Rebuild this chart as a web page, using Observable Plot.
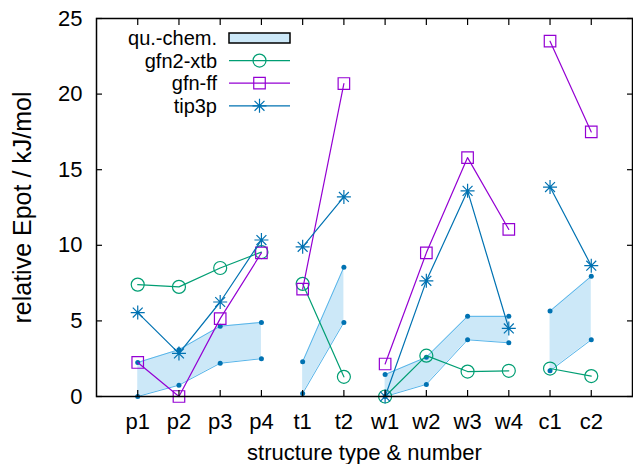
<!DOCTYPE html>
<html>
<head>
<meta charset="utf-8">
<script src="https://cdn.jsdelivr.net/npm/d3@7"></script>
<script src="https://cdn.jsdelivr.net/npm/@observablehq/plot@0.6"></script>
<style>
  html, body { margin: 0; padding: 0; background: white; }
</style>
</head>
<body>
<div id="chart"></div>
<script>
const categories = ["p1","p2","p3","p4","t1","t2","w1","w2","w3","w4","c1","c2"];
const groups     = ["p","p","p","p","t","t","w","w","w","w","c","c"];
const qcLow  = [0, 0.75, 2.2, 2.5, 0.2, 4.9, 0, 0.8, 3.75, 3.55, 1.7, 3.75];
const qcHigh = [2.25, 3.1, 4.65, 4.9, 2.3, 8.55, 1.45, 2.6, 5.3, 5.3, 5.65, 7.95];
const gfn2xtb = [7.4, 7.25, 8.5, 9.55, 7.45, 1.3, 0, 2.7, 1.65, 1.7, 1.85, 1.35];
const gfnff   = [2.25, 0, 5.15, 9.5, 7.1, 20.7, 2.15, 9.5, 15.8, 11.05, 23.5, 17.5];
const tip3p   = [5.55, 2.85, 6.25, 10.35, 9.9, 13.2, 0, 7.65, 13.6, 4.5, 13.85, 8.65];
const yTicks = [0, 5, 10, 15, 20, 25];

const rows = categories.map((c, i) => ({
  x: i + 1, cat: c, group: groups[i],
  low: qcLow[i], high: qcHigh[i],
  gfn2: gfn2xtb[i], gfnff: gfnff[i], tip3p: tip3p[i]
}));

const cGreen = "#009e73", cPurple = "#9400d3", cBlue = "#0072b2", cSky = "#56b4e9";

// 8-arm asterisk (plus + cross)
const star8 = {
  draw(context, size) {
    const r = Math.sqrt(size / Math.PI);
    const d = r * Math.SQRT1_2;
    context.moveTo(-r, 0); context.lineTo(r, 0);
    context.moveTo(0, -r); context.lineTo(0, r);
    context.moveTo(-d, -d); context.lineTo(d, d);
    context.moveTo(-d, d); context.lineTo(d, -d);
  }
};

const xt = d3.range(1, 13);
const lw = 1.2;
const fs = 22;

const plot = Plot.plot({
  width: 633,
  height: 464,
  marginLeft: 96,
  marginRight: 1,
  marginTop: 18,
  marginBottom: 68,
  x: {domain: [0, 13]},
  y: {domain: [0, 25]},
  style: {fontFamily: "'Liberation Sans', Arial, sans-serif", fontSize: fs + "px", color: "black", background: "white"},
  marks: [
    Plot.areaY(rows, {x: "x", y1: "low", y2: "high", z: "group", fill: cSky, fillOpacity: 0.3}),
    Plot.lineY(rows, {x: "x", y: "low", z: "group", stroke: cSky, strokeWidth: 1}),
    Plot.lineY(rows, {x: "x", y: "high", z: "group", stroke: cSky, strokeWidth: 1}),
    Plot.dot(rows, {x: "x", y: "low", r: 2.5, fill: cBlue}),
    Plot.dot(rows, {x: "x", y: "high", r: 2.5, fill: cBlue}),

    Plot.lineY(rows, {x: "x", y: "gfn2", z: "group", stroke: cGreen, strokeWidth: lw}),
    Plot.dot(rows, {x: "x", y: "gfn2", r: 6.5, stroke: cGreen, strokeWidth: lw, fill: "none"}),

    Plot.lineY(rows, {x: "x", y: "gfnff", z: "group", stroke: cPurple, strokeWidth: lw}),
    Plot.dot(rows, {x: "x", y: "gfnff", r: 6.5, symbol: "square", stroke: cPurple, strokeWidth: lw, fill: "none"}),

    Plot.lineY(rows, {x: "x", y: "tip3p", z: "group", stroke: cBlue, strokeWidth: lw}),
    Plot.dot(rows, {x: "x", y: "tip3p", r: 7, symbol: star8, stroke: cBlue, strokeWidth: lw, fill: "none"}),

    Plot.frame({stroke: "black", strokeWidth: 1.5}),
    Plot.axisX({ticks: xt, tickFormat: i => categories[i - 1], tickSize: -6, tickPadding: 23, label: null, strokeWidth: 1.2}),
    Plot.axisX({anchor: "top", ticks: xt, tickFormat: () => "", tickSize: -6, label: null, strokeWidth: 1.2}),
    Plot.axisY({ticks: yTicks, tickSize: -6, tickPadding: 20, label: null, strokeWidth: 1.2}),
    Plot.axisY({anchor: "right", ticks: yTicks, tickFormat: () => "", tickSize: -6, label: null, strokeWidth: 1.2}),
    Plot.text(["structure type & number"], {text: d => d, frameAnchor: "bottom", lineAnchor: "middle", textAnchor: "middle", dy: 56, fontSize: fs}),
    Plot.text(["relative Epot / kJ/mol"], {text: d => d, frameAnchor: "left", textAnchor: "middle", lineAnchor: "middle", rotate: -90, dx: -74, fontSize: 25})
  ]
});

document.getElementById("chart").appendChild(plot);

// Legend (inside plot, top-left)
const svg = d3.select(plot);
const lfs = 20;
const lg = svg.append("g").attr("font-family", "'Liberation Sans', Arial, sans-serif").attr("font-size", lfs);
const items = [
  {label: "qu.-chem.", kind: "band"},
  {label: "gfn2-xtb", kind: "line", color: cGreen, sym: d3.symbolCircle},
  {label: "gfn-ff", kind: "line", color: cPurple, sym: d3.symbolSquare},
  {label: "tip3p", kind: "line", color: cBlue, sym: star8}
];
const lx0 = 229, lx1 = 290, ltx = 217, ly0 = 38, ldy = 22.6;
items.forEach((it, i) => {
  const y = ly0 + i * ldy;
  lg.append("text").attr("x", ltx).attr("y", y).attr("text-anchor", "end").attr("dy", "0.35em").attr("fill", "black").text(it.label);
  if (it.kind === "band") {
    lg.append("rect").attr("x", lx0).attr("y", y - 5).attr("width", lx1 - lx0).attr("height", 10)
      .attr("fill", cSky).attr("fill-opacity", 0.3).attr("stroke", "black").attr("stroke-width", 1.5);
  } else {
    lg.append("line").attr("x1", lx0).attr("x2", lx1).attr("y1", y).attr("y2", y).attr("stroke", it.color).attr("stroke-width", lw);
    const r = it.sym === star8 ? 7 : 6.5;
    lg.append("path").attr("transform", `translate(${(lx0 + lx1) / 2},${y})`)
      .attr("d", d3.symbol(it.sym, r * r * Math.PI)())
      .attr("fill", "none").attr("stroke", it.color).attr("stroke-width", lw);
  }
});
</script>
</body>
</html>
